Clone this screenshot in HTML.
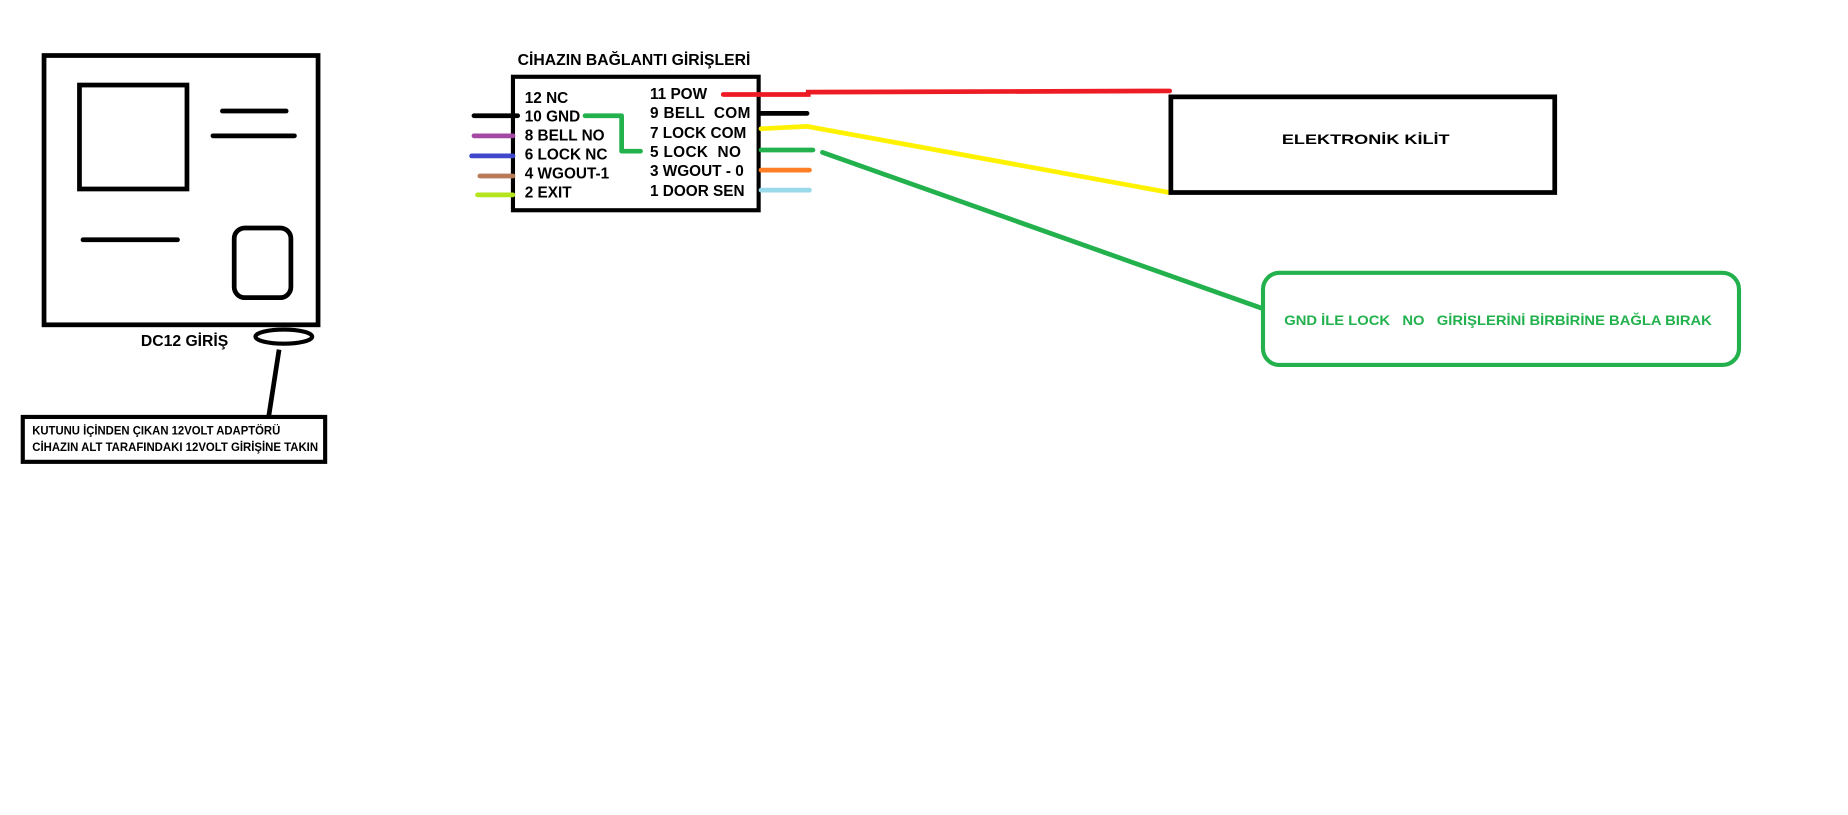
<!DOCTYPE html>
<html><head><meta charset="utf-8"><style>
html,body{margin:0;padding:0;background:#fff;}
svg{display:block;}
text{font-family:"Liberation Sans",sans-serif;font-weight:bold;white-space:pre;}
</style></head><body>
<svg width="1848" height="815" viewBox="0 0 1564 690" xmlns="http://www.w3.org/2000/svg">
<rect width="1564" height="690" fill="#fff"/>
<!-- device -->
<rect x="37" y="47" width="232" height="228" fill="none" stroke="#000" stroke-width="4"/>
<rect x="67" y="72" width="91" height="88" fill="none" stroke="#000" stroke-width="4"/>
<line x1="188" y1="94" x2="242" y2="94" stroke="#000" stroke-width="4" stroke-linecap="round"/>
<line x1="180" y1="115" x2="249" y2="115" stroke="#000" stroke-width="4" stroke-linecap="round"/>
<line x1="70" y1="203" x2="150" y2="203" stroke="#000" stroke-width="4" stroke-linecap="round"/>
<rect x="198" y="193" width="48" height="59" rx="9" fill="none" stroke="#000" stroke-width="4"/>
<text x="119" y="293" font-size="13" textLength="74" lengthAdjust="spacingAndGlyphs">DC12 GİRİŞ</text>
<ellipse cx="240" cy="285" rx="24" ry="6" fill="none" stroke="#000" stroke-width="3.5"/>
<line x1="236" y1="296" x2="227" y2="354" stroke="#000" stroke-width="4"/>
<rect x="19" y="353" width="256" height="38" fill="none" stroke="#000" stroke-width="3.5"/>
<text x="27" y="368" font-size="10" textLength="210" lengthAdjust="spacingAndGlyphs">KUTUNU İÇİNDEN ÇIKAN 12VOLT ADAPTÖRÜ</text>
<text x="27" y="382" font-size="10" textLength="242" lengthAdjust="spacingAndGlyphs">CİHAZIN ALT TARAFINDAKI 12VOLT GİRİŞİNE TAKIN</text>
<!-- connector -->
<text x="438" y="55" font-size="13" textLength="197" lengthAdjust="spacingAndGlyphs">CİHAZIN BAĞLANTI GİRİŞLERİ</text>
<rect x="434" y="65" width="208" height="113" fill="none" stroke="#000" stroke-width="3.5"/>
<g font-size="13">
<text x="444" y="87">12 NC</text>
<text x="444" y="103">10 GND</text>
<text x="444" y="119">8 BELL NO</text>
<text x="444" y="135">6 LOCK NC</text>
<text x="444" y="151">4 WGOUT-1</text>
<text x="444" y="167">2 EXIT</text>
<text x="550" y="84">11 POW</text>
<text x="550" y="100" textLength="85" lengthAdjust="spacing">9 BELL  COM</text>
<text x="550" y="117">7 LOCK COM</text>
<text x="550" y="133" textLength="77" lengthAdjust="spacing">5 LOCK  NO</text>
<text x="550" y="149">3 WGOUT - 0</text>
<text x="550" y="166">1 DOOR SEN</text>
</g>
<g stroke-width="4" fill="none" stroke-linecap="round">
<line x1="401" y1="98" x2="438" y2="98" stroke="#000"/>
<line x1="401" y1="115" x2="434" y2="115" stroke="#a349a4"/>
<line x1="399" y1="132" x2="434" y2="132" stroke="#3f48cc"/>
<line x1="406" y1="149" x2="434" y2="149" stroke="#b97a57"/>
<line x1="404" y1="165" x2="434" y2="165" stroke="#b5e61d"/>
<polyline points="495,98 526,98 526,128 542,128" stroke="#22b14c" stroke-linejoin="round"/>
<polyline points="612,80 684,80 684,78 990,77" stroke="#ed1c24"/>
<line x1="644" y1="96" x2="683" y2="96" stroke="#000"/>
<polyline points="644,109 683,107 990,163" stroke="#fff200"/>
<line x1="644" y1="127" x2="688" y2="127" stroke="#22b14c"/>
<line x1="696" y1="129" x2="1068" y2="261" stroke="#22b14c"/>
<line x1="644" y1="144" x2="685" y2="144" stroke="#ff7f27"/>
<line x1="644" y1="161" x2="685" y2="161" stroke="#99d9ea"/>
</g>
<rect x="991" y="82" width="325" height="81" fill="none" stroke="#000" stroke-width="4"/>
<text x="1085" y="122" font-size="12" textLength="142" lengthAdjust="spacingAndGlyphs">ELEKTRONİK KİLİT</text>
<rect x="1069" y="231" width="403" height="78" rx="14" fill="none" stroke="#22b14c" stroke-width="3.5"/>
<text x="1087" y="275" font-size="12" fill="#22b14c" textLength="362" lengthAdjust="spacingAndGlyphs">GND İLE LOCK   NO   GİRİŞLERİNİ BİRBİRİNE BAĞLA BIRAK</text>
</svg>
</body></html>
